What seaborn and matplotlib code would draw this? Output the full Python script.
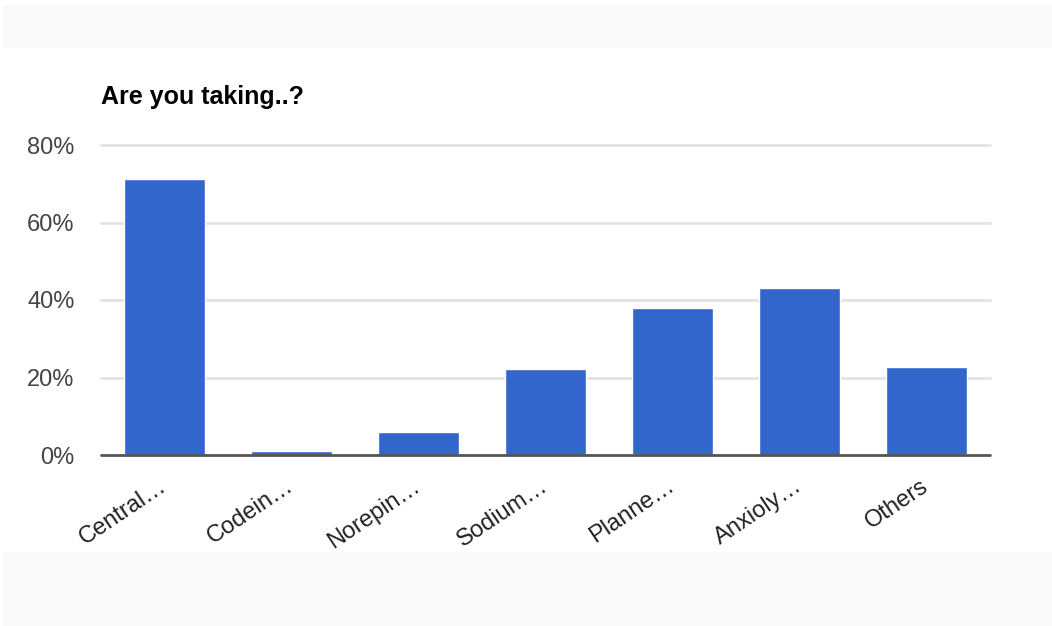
import matplotlib
matplotlib.use("Agg")
import matplotlib.pyplot as plt
import seaborn as sns
import pandas as pd
from matplotlib.patches import Rectangle

categories = ["Central…", "Codein…", "Norepin…", "Sodium…", "Planne…", "Anxioly…", "Others"]
values = [71.2, 1.0, 5.9, 22.2, 37.9, 43.1, 22.7]
yticks = [0, 20, 40, 60, 80]
ytick_labels = ["0%", "20%", "40%", "60%", "80%"]
title = "Are you taking..?"

sns.set_theme(style="white")
plt.rcParams['font.family'] = ['Liberation Sans', 'DejaVu Sans']

fig = plt.figure(figsize=(10.52, 6.26), dpi=100)
fig.patch.set_facecolor("white")
# grey bands
fig.patches.append(Rectangle((0.003, 1 - 48/626), 0.997, 43/626, transform=fig.transFigure,
                             facecolor="#f9f9f9", edgecolor="none", zorder=0))
fig.patches.append(Rectangle((0.003, 0), 0.997, 1 - 552/626, transform=fig.transFigure,
                             facecolor="#f9f9f9", edgecolor="none", zorder=0))

ax = fig.add_axes([101/1052, 1 - 455/626, (990 - 101)/1052, (455 - 145)/626])
ax.set_facecolor("none")

df = pd.DataFrame({"cat": categories, "val": values})
sns.barplot(data=df, x="cat", y="val", color="#3366CC", saturation=1, width=0.63, ax=ax, zorder=3)

ax.set_xlim(-0.5, len(categories) - 0.5)
ax.set_ylim(0, 80)
ax.set_yticks(yticks)
ax.set_yticklabels(ytick_labels)
ax.set_xlabel("")
ax.set_ylabel("")
for t in yticks[1:]:
    ax.axhline(t, color="#e3e3e3", lw=2, zorder=1, clip_on=False)
ax.axhline(0, color="#555555", lw=2, zorder=4, clip_on=False)
for s in ax.spines.values():
    s.set_visible(False)
ax.tick_params(axis="y", length=0, pad=19, labelsize=17, labelcolor="#444444")
ax.tick_params(axis="x", length=0, pad=21, labelsize=17, labelcolor="#222222")
plt.setp(ax.get_xticklabels(), rotation=34, ha="right", va="center", rotation_mode="anchor")

fig.text(101/1052, 1 - 104/626, title, fontsize=18, fontweight="bold", color="#000000",
         ha="left", va="baseline")

fig.savefig("out.png", dpi=100)
